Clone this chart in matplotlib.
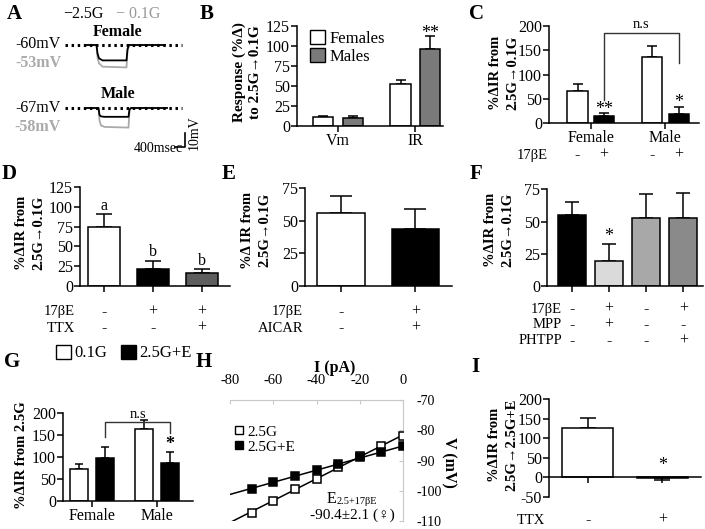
import numpy as np
import matplotlib
matplotlib.use("Agg")
import matplotlib.pyplot as plt
from matplotlib.patches import Patch
from matplotlib.lines import Line2D

plt.rcParams['font.family'] = ['Liberation Serif', 'DejaVu Sans']
plt.rcParams['axes.linewidth'] = 1.1
plt.rcParams['axes.unicode_minus'] = False

# ---------------- data ----------------
# A: example voltage traces (ms, mV relative to baseline)
trace_t = [0, 460, 500, 560, 700, 1660, 1700, 1760, 3200]
fem_25 = [0, 0, -6, -9.5, -11, -11, -3, 0, 0]
fem_01 = [0, 0, -9, -13, -15.5, -16, -4, 0, 0]
male_25 = [0, 0, -5, -6, -6.3, -6.3, -1, 0, 0]
male_01 = [0, 0, -9, -12.5, -13.5, -14, -2, 0, 0]

# B
B_groups = ['Vm', 'IR']
B_fem = [11, 53]
B_fem_err = [1, 5]
B_male = [10.5, 96]
B_male_err = [1.5, 17]

# C
C_groups = ['Female', 'Male']
C_ctrl = [67, 136]
C_ctrl_err = [14, 22]
C_e2 = [15, 20]
C_e2_err = [6, 13]
C_rows = ['-', '+', '-', '+']

# D
D_vals = [74, 21, 15.5]
D_err = [16.5, 11, 5.5]
D_letters = ['a', 'b', 'b']
D_rows = {'17βE': ['-', '+', '+'], 'TTX': ['-', '-', '+']}

# E
E_vals = [55.7, 43.4]
E_err = [13.3, 15.4]
E_rows = {'17βE': ['-', '+'], 'AICAR': ['-', '+']}

# F
F_vals = [55, 19.6, 52.5, 53]
F_err = [10.3, 12.9, 18.5, 18.8]
F_rows = {'17βE': ['-', '+', '-', '+'], 'MPP': ['-', '+', '-', '-'],
          'PHTPP': ['-', '-', '-', '+']}

# G
G_groups = ['Female', 'Male']
G_01 = [72, 162]
G_01_err = [12, 22]
G_25E = [97, 85]
G_25E_err = [26, 26]

# H
H_I = [0, -10, -20, -30, -40, -50, -60, -70]
H_25 = [-82, -85.2, -88.5, -92, -96, -99.4, -103.4, -107.2]
H_25E = [-85.3, -87.2, -89, -91.3, -93.2, -95.2, -97, -99.4]

# I
I_vals = [127, -2]
I_err = [26, 6]
I_rows = {'TTX': ['-', '+']}

# ---------------- figure ----------------
W, H = 705, 529
fig = plt.figure(figsize=(W / 100, H / 100), dpi=100)


def axpx(l, t, r, b):
    return fig.add_axes([l / W, 1 - b / H, (r - l) / W, (b - t) / H])


def ftext(x, y, s, **kw):
    kw.setdefault('ha', 'center')
    kw.setdefault('va', 'center')
    fig.text(x / W, 1 - y / H, s, **kw)


TICK = 11.5


def style(ax):
    for s in ['top', 'right']:
        ax.spines[s].set_visible(False)
    ax.tick_params(direction='out', length=4, width=1.1, labelsize=TICK, pad=1)


def bars(ax, x, v, e, width, color, cs):
    ax.bar(x, v, width, color=color, edgecolor='black', linewidth=1.1, zorder=2)
    e = np.asarray(e)
    v = np.asarray(v)
    lower = np.where(v < 0, e, 0)
    upper = np.where(v < 0, 0, e)
    ax.errorbar(x, v, yerr=[lower, upper], fmt='none', ecolor='black',
                elinewidth=1.1, capsize=cs, capthick=1.1, zorder=1)


def rows(ax, top, bottom, xs, rowdict, ys, lab_x, fs=10.5):
    for (name, signs), y in zip(rowdict.items(), ys):
        ftext(lab_x, y, name, ha='right', fontsize=fs)
        frac = (bottom - y) / (bottom - top)
        for x, s in zip(xs, signs):
            ax.text(x, frac, s, transform=ax.get_xaxis_transform(), ha='center',
                    va='center', fontsize=fs + 1, clip_on=False)


# panel letters
for lab, x, y in [('A', 14, 14), ('B', 207, 14), ('C', 477, 14), ('D', 9, 174),
                  ('E', 229, 174), ('F', 476, 174), ('G', 12, 362), ('H', 204, 362),
                  ('I', 475, 367)]:
    ftext(x, y, lab, fontsize=15, fontweight='bold')

# ---------------- A ----------------
axA = axpx(0, 0, 220, 170)
axA.set_xlim(0, 220)
axA.set_ylim(170, 0)
axA.axis('off')
sx, sy = 0.025, 1.4
t = np.asarray(trace_t)
for base, x0, tr25, tr01 in [(45, 85, fem_25, fem_01), (108, 87, male_25, male_01)]:
    axA.plot(x0 + t * sx, base - np.asarray(tr01) * sy, color='#aaaaaa', lw=1.3)
    axA.plot(x0 + t * sx, base - np.asarray(tr25) * sy, color='black', lw=1.3)
    axA.plot([65, 182], [base, base], color='black', lw=2.2, ls=(0, (0.8, 1.2)))
axA.text(83, 14, '−2.5G', fontsize=11.5, ha='center', va='center')
axA.text(138, 14, '− 0.1G', fontsize=11.5, ha='center', va='center', color='#999999')
axA.text(118, 32, 'Female', fontsize=11.5, fontweight='bold', ha='center', va='center')
axA.text(118, 94, 'Male', fontsize=11.5, fontweight='bold', ha='center', va='center')
axA.text(61, 44, '-60mV', fontsize=11.5, ha='right', va='center')
axA.text(61, 63, '-53mV', fontsize=11.5, ha='right', va='center', color='#aaaaaa',
         fontweight='bold')
axA.text(61, 108, '-67mV', fontsize=11.5, ha='right', va='center')
axA.text(61, 127, '-58mV', fontsize=11.5, ha='right', va='center', color='#aaaaaa',
         fontweight='bold')
axA.plot([175, 185, 185], [147, 147, 133], color='black', lw=1.2)
axA.text(183, 149, '400msec', fontsize=10, ha='right', va='center')
axA.text(194, 133, '10mV', fontsize=10, ha='center', va='center', rotation=90)

# ---------------- B ----------------
axB = axpx(297, 26, 443, 126)
style(axB)
gx = np.arange(len(B_groups))
bars(axB, gx - 0.19, B_fem, B_fem_err, 0.26, 'white', 3.5)
bars(axB, gx + 0.19, B_male, B_male_err, 0.26, '#7a7a7a', 3.5)
axB.set_xlim(-0.53, 1.36)
axB.set_ylim(0, 125)
axB.set_yticks([0, 25, 50, 75, 100, 125])
axB.set_xticks(gx)
axB.set_xticklabels(B_groups)
axB.text(1.19, B_male[1] + B_male_err[1] - 8, '**', ha='center', va='bottom',
         fontsize=13, clip_on=False)
axB.legend(handles=[Patch(facecolor='white', edgecolor='black', label='Females'),
                    Patch(facecolor='#7a7a7a', edgecolor='black', label='Males')],
           loc='upper left', bbox_to_anchor=(300 / W, 1 - 20 / H),
           bbox_transform=fig.transFigure, frameon=False, fontsize=12,
           handlelength=0.9, handleheight=0.9, handletextpad=0.25, labelspacing=0.1,
           borderpad=0.1)
ftext(247, 72, 'Response (%Δ)\nto 2.5G→0.1G', rotation=90, fontsize=11,
      fontweight='bold', linespacing=1.3)

# ---------------- C ----------------
axC = axpx(549, 26, 699, 123.3)
style(axC)
gx = np.arange(len(C_groups))
bars(axC, gx - 0.178, C_ctrl, C_ctrl_err, 0.27, 'white', 3.5)
bars(axC, gx + 0.178, C_e2, C_e2_err, 0.27, 'black', 3.5)
axC.set_xlim(-0.56, 1.45)
axC.set_ylim(0, 200)
axC.set_yticks([0, 50, 100, 150, 200])
axC.set_xticks(gx)
axC.set_xticklabels(C_groups)
axC.text(0.178, C_e2[0] + C_e2_err[0] - 10, '**', ha='center', va='bottom', fontsize=13)
axC.text(1.178, C_e2[1] + C_e2_err[1] - 8, '*', ha='center', va='bottom', fontsize=13)
axC.plot([0.178, 0.178, 1.178, 1.178], [48, 186, 186, 124], color='#333333', lw=1.0,
         clip_on=False)
axC.text(0.678, 190, 'n.s', ha='center', va='bottom', fontsize=10.5, clip_on=False)
cx = [gx[0] - 0.178, gx[0] + 0.178, gx[1] - 0.178, gx[1] + 0.178]
rows(axC, 26, 123.3, cx, {'17βE': C_rows}, [155], 548)
ftext(504, 73, '%ΔIR from\n2.5G→0.1G', rotation=90, fontsize=10.5,
      fontweight='bold', linespacing=1.4)

# ---------------- D ----------------
axD = axpx(80, 187.3, 230, 285.7)
style(axD)
dx = np.arange(len(D_vals))
bars(axD, dx, D_vals, D_err, 0.67, ['white', 'black', '#5e5e5e'], 6)
axD.set_xlim(-0.49, 2.57)
axD.set_ylim(0, 125)
axD.set_yticks([0, 25, 50, 75, 100, 125])
axD.set_xticks(dx)
axD.set_xticklabels([])
for x, v, e, l in zip(dx, D_vals, D_err, D_letters):
    axD.text(x, v + e + 11, l, ha='center', va='center', fontsize=11.5)
rows(axD, 187.3, 285.7, dx, D_rows, [312, 328], 75)
ftext(30, 233, '%ΔIR from\n2.5G→0.1G', rotation=90, fontsize=10.5,
      fontweight='bold', linespacing=1.4)

# ---------------- E ----------------
axE = axpx(305, 188.3, 452, 285.7)
style(axE)
ex = np.arange(len(E_vals))
bars(axE, ex, E_vals, E_err, 0.64, ['white', 'black'], 8)
axE.set_xlim(-0.48, 1.49)
axE.set_ylim(0, 75)
axE.set_yticks([0, 25, 50, 75])
axE.set_xticks(ex)
axE.set_xticklabels([])
rows(axE, 188.3, 285.7, ex, E_rows, [312, 328], 303)
ftext(256, 230, '%Δ IR from\n2.5G→0.1G', rotation=90, fontsize=10.5,
      fontweight='bold', linespacing=1.4)

# ---------------- F ----------------
axF = axpx(547, 189.3, 703, 286)
style(axF)
fx = np.arange(len(F_vals))
bars(axF, fx, F_vals, F_err, 0.75, ['black', '#dadada', '#a8a8a8', '#8a8a8a'], 5)
axF.set_xlim(-0.66, 3.53)
axF.set_ylim(0, 75)
axF.set_yticks([0, 25, 50, 75])
axF.set_xticks(fx)
axF.set_xticklabels([])
axF.text(1, F_vals[1] + F_err[1] - 1, '*', ha='center', va='bottom', fontsize=13)
rows(axF, 189.3, 286, fx, F_rows, [309, 325, 341], 562)
ftext(499, 230, '%ΔIR from\n2.5G→0.1G', rotation=90, fontsize=10.5,
      fontweight='bold', linespacing=1.4)

# ---------------- G ----------------
axG = axpx(63, 412.7, 193, 500.7)
style(axG)
gx = np.arange(len(G_groups))
bars(axG, gx - 0.2, G_01, G_01_err, 0.27, 'white', 3)
bars(axG, gx + 0.2, G_25E, G_25E_err, 0.27, 'black', 3)
axG.set_xlim(-0.45, 1.55)
axG.set_ylim(0, 200)
axG.set_yticks([0, 50, 100, 150, 200])
axG.set_xticks(gx)
axG.set_xticklabels(G_groups)
axG.text(1.2, G_25E[1] + G_25E_err[1] - 3, '*', ha='center', va='bottom', fontsize=13,
         fontweight='bold')
axG.plot([0.2, 0.2, 1.2, 1.2], [145, 179, 179, 154], color='#333333', lw=1.0,
         clip_on=False)
axG.text(0.7, 182, 'n.s', ha='center', va='bottom', fontsize=10.5, clip_on=False)
axG.legend(handles=[Patch(facecolor='white', edgecolor='black', label='0.1G'),
                    Patch(facecolor='black', edgecolor='black', label='2.5G+E')],
           loc='center', bbox_to_anchor=(124 / W, 1 - 353 / H),
           bbox_transform=fig.transFigure, frameon=False, fontsize=12, ncol=2,
           handlelength=0.9, handleheight=0.9, handletextpad=0.2, columnspacing=0.8,
           borderpad=0.1)
ftext(22, 455, '%ΔIR from 2.5G', rotation=90, fontsize=10.5, fontweight='bold')

# ---------------- H ----------------
axH = axpx(230, 400, 403, 521)
axH.set_xlim(-80, 0)
axH.set_ylim(-110, -70)
for s in ['left', 'bottom']:
    axH.spines[s].set_visible(False)
for s in ['top', 'right']:
    axH.spines[s].set_color('#c8c8c8')
    axH.spines[s].set_linewidth(0.8)
axH.xaxis.tick_top()
axH.yaxis.tick_right()
axH.set_xticks([-80, -60, -40, -20, 0])
axH.set_yticks([-110, -100, -90, -80, -70])
axH.tick_params(axis='x', direction='in', length=3, color='#c8c8c8', labelsize=10.5, pad=9)
axH.tick_params(axis='y', direction='in', length=3, color='#c8c8c8', labelsize=10, pad=10)
hx = np.asarray(H_I)
xl = np.array([-85, 0])
for yv, fc in [(H_25, 'white'), (H_25E, 'black')]:
    p = np.polyfit(hx, yv, 1)
    axH.plot(xl, np.polyval(p, xl), color='black', lw=1.1, zorder=2)
    axH.plot(hx, yv, ls='none', marker='s', ms=6, mfc=fc, mec='black', mew=1.1, zorder=3)
axH.legend(handles=[Line2D([], [], ls='none', marker='s', ms=6, mfc='white', mec='black',
                           label='2.5G'),
                    Line2D([], [], ls='none', marker='s', ms=6, mfc='black', mec='black',
                           label='2.5G+E')],
           loc='upper left', bbox_to_anchor=(-0.03, 0.87), frameon=False, fontsize=11,
           handlelength=0.6, handletextpad=0.3, labelspacing=0.1, borderpad=0.1)
axH.text(-31, -102.6, 'E', ha='right', va='center', fontsize=11.5)
axH.text(-30.9, -103.4, '2.5+17βE', ha='left', va='center', fontsize=7.5)
axH.text(-23.5, -108.2, '-90.4±2.1 (♀)', ha='center', va='center', fontsize=11)
ftext(335, 368, 'I (pA)', fontsize=11.5, fontweight='bold')
ftext(449, 462, 'V (mV)', rotation=270, fontsize=11.5, fontweight='bold')

# ---------------- I ----------------
axI = axpx(549, 399.3, 701, 496.7)
style(axI)
axI.spines['bottom'].set_position(('data', 0))
ix = np.arange(len(I_vals))
bars(axI, ix, I_vals, I_err, 0.68, 'white', 6)
axI.set_xlim(-0.52, 1.52)
axI.set_ylim(-50, 200)
axI.set_yticks([-50, 0, 50, 100, 150, 200])
axI.set_xticks(ix)
axI.set_xticklabels([])
axI.text(1, 7, '*', ha='center', va='bottom', fontsize=13)
rows(axI, 399.3, 496.7, ix, I_rows, [520], 545, fs=10.5)
ftext(503, 445, '%ΔIR from\n2.5G→2.5G+E', rotation=90, fontsize=10.5,
      fontweight='bold', linespacing=1.4)

fig.savefig('out.png', dpi=100)
